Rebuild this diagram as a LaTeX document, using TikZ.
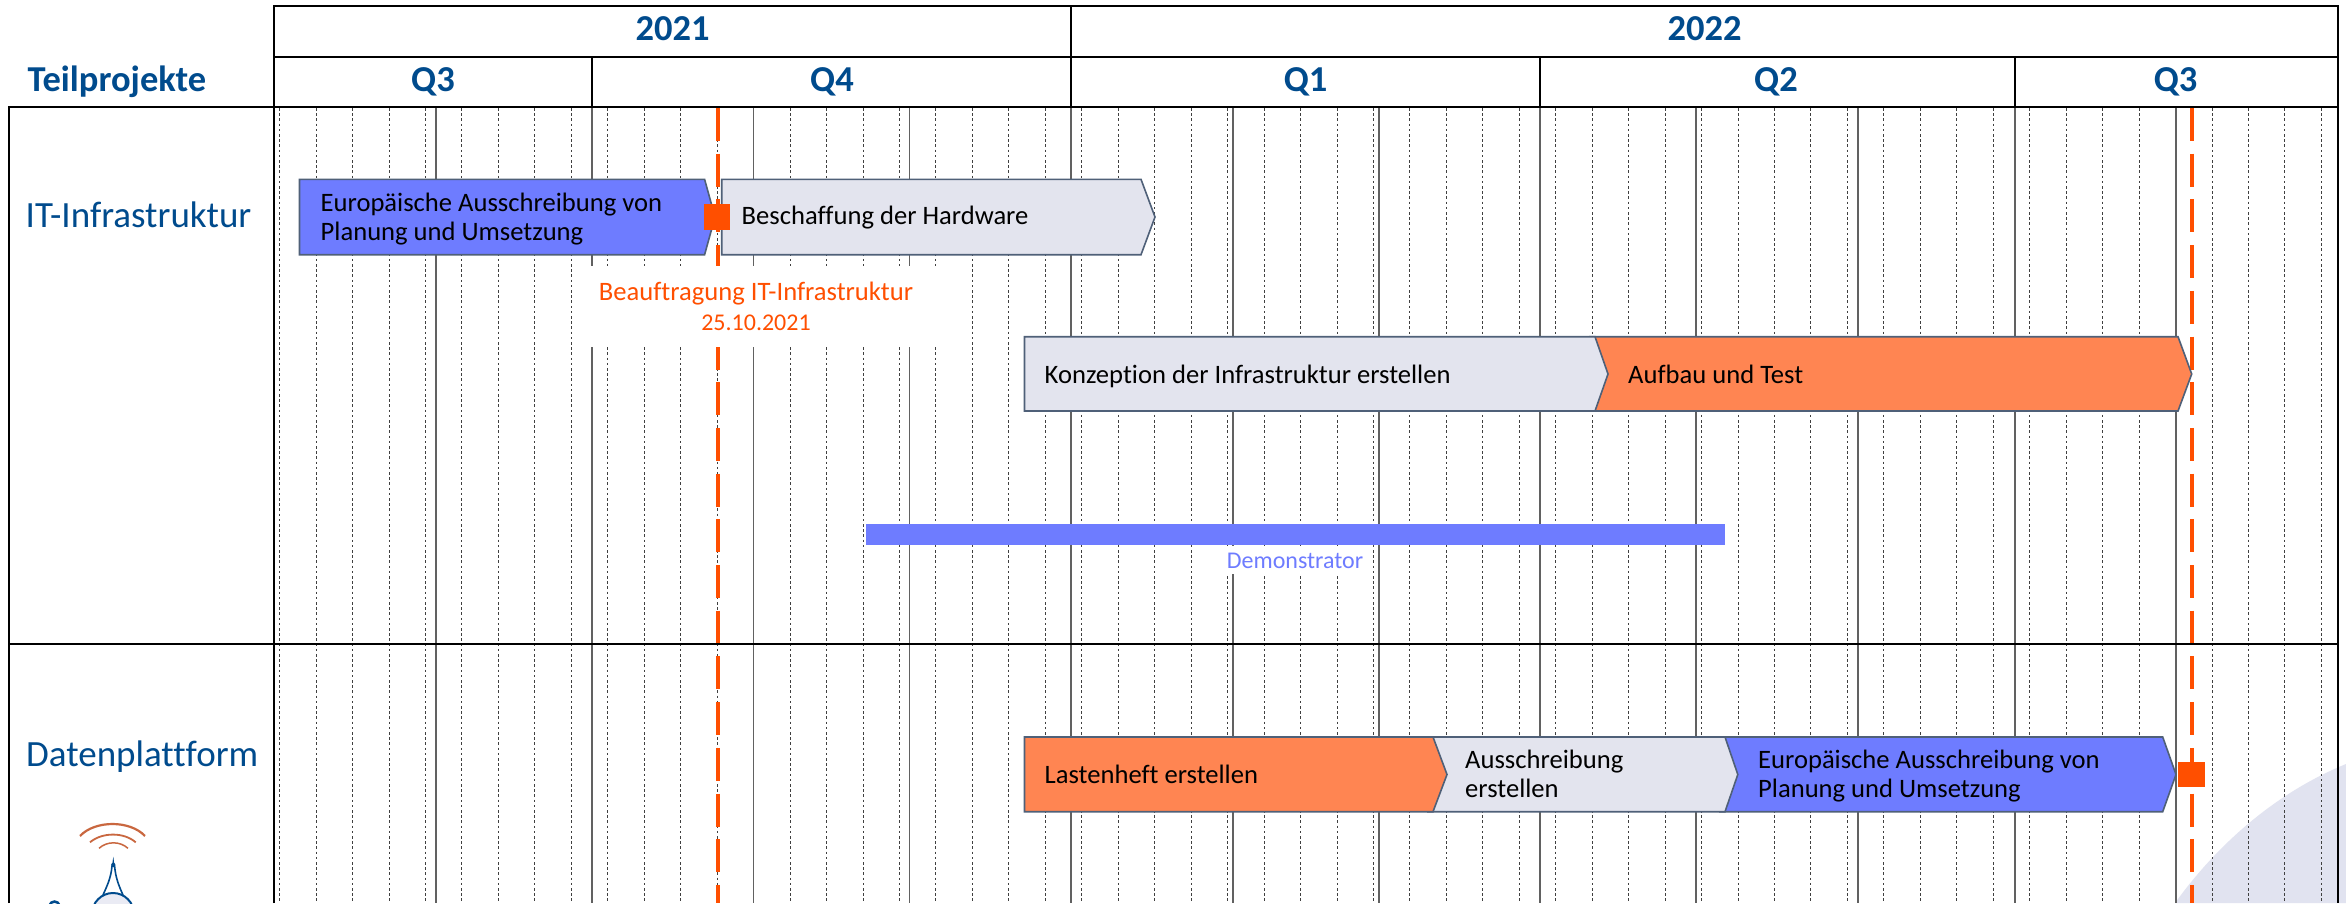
\documentclass[tikz,border=0pt]{standalone}
\usepackage{fontspec}
\setmainfont[Ligatures=CommonOff]{Carlito}
\definecolor{headblue}{HTML}{004B8D}
\definecolor{barblue}{HTML}{6E7CFF}
\definecolor{barorange}{HTML}{FF8552}
\definecolor{bargray}{HTML}{E3E4EE}
\definecolor{edgeblue}{HTML}{4F6078}
\definecolor{mileorange}{HTML}{FF4F00}
\definecolor{paleblue}{HTML}{E1E3F0}
\definecolor{arcorange}{HTML}{C9673F}
\tikzset{
  x=1pt,y=-1pt,
  rule/.style={line width=2.4pt,black},
  rulethin/.style={line width=1.6pt,black},
  solidgrid/.style={line width=1.5pt,black!62},
  weekgrid/.style={line width=0.9pt,black!75,dash pattern=on 2.6pt off 2.6pt},
  mileline/.style={line width=4.4pt,mileorange,dash pattern=on 33pt off 12.7pt},
  phase/.style={draw=edgeblue,line width=1.6pt,line join=miter},
  head/.style={anchor=base,font=\fontsize{36.5}{36.5}\selectfont\bfseries,text=headblue,inner sep=0pt},
  rowtitle/.style={anchor=base west,font=\fontsize{37}{37}\selectfont,text=headblue,inner sep=0pt},
  task/.style={anchor=base west,font=\fontsize{26.6}{26.6}\selectfont,text=black,inner sep=0pt},
  milelabel/.style={anchor=base,font=\fontsize{26.6}{26.6}\selectfont,text=mileorange,inner sep=0pt},
  milesquare/.style={fill=mileorange,draw=none},
}
\begin{document}
\begin{tikzpicture}
\useasboundingbox (0,0) rectangle (2346,903);
\begin{scope}
\clip (0,0) rectangle (2346,903);
\fill[white] (0,0) rectangle (2346,903);
% pale background shape
\fill[paleblue] (2175,903) .. controls (2222,838) and (2282,790) .. (2346,764) -- (2346,903) -- cycle;
% week grid
\foreach \k in {0,...,56}{
  \pgfmathsetmacro{\xx}{279.6+36.46*\k}
  \draw[weekgrid] (\xx,108) -- (\xx,903);
}
% month grid
\foreach \xx in {436,592,753.6,909.5,1071,1233,1379,1540,1696,1858,2015,2176}{
  \draw[solidgrid] (\xx,108) -- (\xx,903);
}
% milestone lines
\draw[mileline] (717.7,108) -- (717.7,903);
\draw[mileline] (2191.7,108) -- (2191.7,903);
% frame
\draw[rulethin] (9,644) -- (2338,644);
\draw[rule] (9,903) -- (9,107) -- (2338,107);
\draw[rule] (274,903) -- (274,6) -- (2338,6) -- (2338,903);
\draw[rule] (274,57) -- (2338,57);
\draw[rule] (592,57) -- (592,107);
\draw[rule] (1071,6) -- (1071,107);
\draw[rule] (1540,57) -- (1540,107);
\draw[rule] (2015,57) -- (2015,107);
% gaps behind labels
\fill[white] (582,266) rectangle (955,347);
\fill[white] (1226,546) rectangle (1366,574);
% headers
\node[head] (y21) at (672.7,40.7) {2021};
\node[head] (y22) at (1704.6,40.7) {2022};
\node[head] (q3a) at (433,91.7) {Q3};
\node[head] (q4a) at (832,91.7) {Q4};
\node[head] (q1b) at (1305.6,91.7) {Q1};
\node[head] (q2b) at (1776,91.7) {Q2};
\node[head] (q3b) at (2175.7,91.7) {Q3};
\node[head] (tp) at (117,91.7) {Teilprojekte};
\node[rowtitle] (rowit) at (25.5,227.7) {IT-Infrastruktur};
\node[rowtitle] (rowdp) at (26,766) {Datenplattform};
% row 1 phases
\draw[phase,fill=barblue] (299.5,179.3) -- (704.6,179.3) -- (715,217) -- (704.6,254.7) -- (299.5,254.7) -- cycle;
\draw[phase,fill=bargray] (721.7,179.3) -- (1141,179.3) -- (1155,217) -- (1141,254.7) -- (721.7,254.7) -- cycle;
\node[task] (t1a) at (320.5,211) {Europäische Ausschreibung von};
\node[task] (t1b) at (320.5,240) {Planung und Umsetzung};
\node[task] (t2) at (741.5,224) {Beschaffung der Hardware};
\fill[milesquare] (704,204) rectangle (730,230);
\node[milelabel] (m1a) at (756,300) {Beauftragung IT-Infrastruktur};
\node[anchor=base,font=\fontsize{24}{24}\selectfont,text=mileorange,inner sep=0pt] (m1b) at (756,330) {25.10.2021};
% row 2 phases
\draw[phase,fill=barorange] (1590,336.7) -- (2178,336.7) -- (2191.7,374) -- (2178,411) -- (1590,411) -- cycle;
\draw[phase,fill=bargray] (1024.5,336.7) -- (1595,336.7) -- (1608,374) -- (1595,411) -- (1024.5,411) -- cycle;
\node[task] (t3) at (1044.5,383) {Konzeption der Infrastruktur erstellen};
\node[task] (t4) at (1628,383) {Aufbau und Test};
% demonstrator
\fill[barblue] (865.8,524) rectangle (1725,544.7);
\node[anchor=base,font=\fontsize{24}{24}\selectfont,text=barblue,inner sep=0pt] (demo) at (1295,568.3) {Demonstrator};
% row 3 phases
\draw[phase,fill=barblue] (1720,737) -- (2162.7,737) -- (2176,774.5) -- (2162.7,811.7) -- (1720,811.7) -- cycle;
\draw[phase,fill=bargray] (1428,737) -- (1725,737) -- (1737.8,774.5) -- (1725,811.7) -- (1428,811.7) -- cycle;
\draw[phase,fill=barorange] (1024.5,737) -- (1433,737) -- (1447,774.5) -- (1433,811.7) -- (1024.5,811.7) -- cycle;
\node[task] (t5) at (1044.5,783) {Lastenheft erstellen};
\node[task] (t6a) at (1465,768.5) {Ausschreibung};
\node[task] (t6b) at (1465,797.5) {erstellen};
\node[task] (t7a) at (1758,768.5) {Europäische Ausschreibung von};
\node[task] (t7b) at (1758,797.5) {Planung und Umsetzung};
\fill[milesquare] (2178,761.7) rectangle (2204.7,787);
% logo
\draw[arcorange,line width=2.2pt] (80,836) .. controls (95,820) and (130,820) .. (145,836);
\draw[arcorange,line width=1.8pt] (90,842.3) .. controls (102,832) and (124,832) .. (135.7,842.3);
\draw[arcorange,line width=1.5pt] (99,848.3) .. controls (107,841) and (120,841) .. (128,848.3);
\fill[headblue] (113.3,856.7) -- (114.3,864) -- (112.3,864) -- cycle;
\fill[headblue] (113.3,865) circle (2.2);
\draw[headblue,line width=1.6pt] (112,866) .. controls (111,878) and (107,886) .. (103,895);
\draw[headblue,line width=1.6pt] (114.6,866) .. controls (115.6,878) and (119,886) .. (123,895);
\draw[headblue,line width=2pt,fill=paleblue!70!white] (113,914) circle (21);
\draw[headblue,line width=2.5pt] (49,906) .. controls (51,900) and (58,900) .. (60,906);
\end{scope}
\end{tikzpicture}
\end{document}
